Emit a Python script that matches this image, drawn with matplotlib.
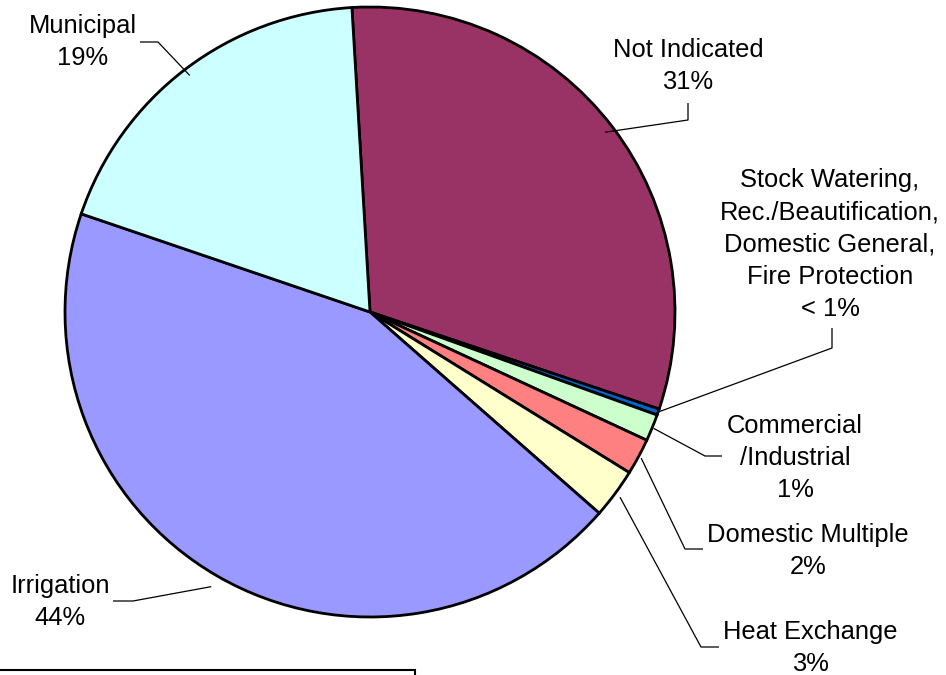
import numpy as np
import matplotlib.pyplot as plt
from matplotlib.patches import Rectangle

plt.rcParams['font.family'] = ['Liberation Sans', 'DejaVu Sans']

# slice data, clockwise from the top
labels = ['Not Indicated', 'Stock Watering,\nRec./Beautification,\nDomestic General,\nFire Protection',
          'Commercial\n/Industrial', 'Domestic Multiple', 'Heat Exchange', 'Irrigation', 'Municipal']
pct_text = ['31%', '< 1%', '1%', '2%', '3%', '44%', '19%']
shares = [31.1, 0.33, 1.42, 1.92, 2.64, 43.75, 18.84]
colors = ['#993366', '#0066CC', '#CCFFCC', '#FF8080', '#FFFFCC', '#9999FF', '#CCFFFF']

W, H = 946, 675
fig = plt.figure(figsize=(W / 100, H / 100), dpi=100)
ax = fig.add_axes([0, 0, 1, 1])

cx, cy, R = 370, H - 312, 305
wedges, _ = ax.pie(shares, colors=colors, startangle=93.4, counterclock=False,
                   center=(cx, cy), radius=R, frame=True,
                   wedgeprops=dict(edgecolor='black', linewidth=2))
ax.set_xlim(0, W)
ax.set_ylim(0, H)
ax.set_aspect('equal')
ax.axis('off')

# label layout in pixel coords (top-left origin): text top, elbow, radius factor of line start
layout = [
    ((688, 38), [(688, 103), (688, 120)], 0.97),
    ((830, 168), [(832, 328), (832, 348)], 1.0),
    ((795, 414), [(722, 456), (705, 456)], 1.005),
    ((808, 523), [(703, 549), (685, 549)], 1.01),
    ((810, 620), [(719, 647), (701, 647)], 1.02),
    ((60, 574), [(113, 601), (133, 601)], 1.04),
    ((83, 14), [(140, 42), (158, 42)], 0.975),
]

for w, lab, pt, (tpos, elbow, rf) in zip(wedges, labels, pct_text, layout):
    mid = np.deg2rad((w.theta1 + w.theta2) / 2)
    sx = cx + rf * R * np.cos(mid)
    sy = cy + rf * R * np.sin(mid)
    xs = [p[0] for p in elbow] + [sx]
    ys = [H - p[1] for p in elbow] + [sy]
    ax.plot(xs, ys, color='black', linewidth=0.9, solid_capstyle='butt')
    ax.text(tpos[0], H - tpos[1], lab + '\n' + pt, ha='center', va='top',
            fontsize=18.4, linespacing=1.43, color='black')

# cut-off box at the bottom left
fig.patches.append(Rectangle((-5 / W, -10 / H), 420 / W, 15 / H, transform=fig.transFigure,
                             fill=False, edgecolor='black', linewidth=1.5))

fig.savefig('out.png', dpi=100)
